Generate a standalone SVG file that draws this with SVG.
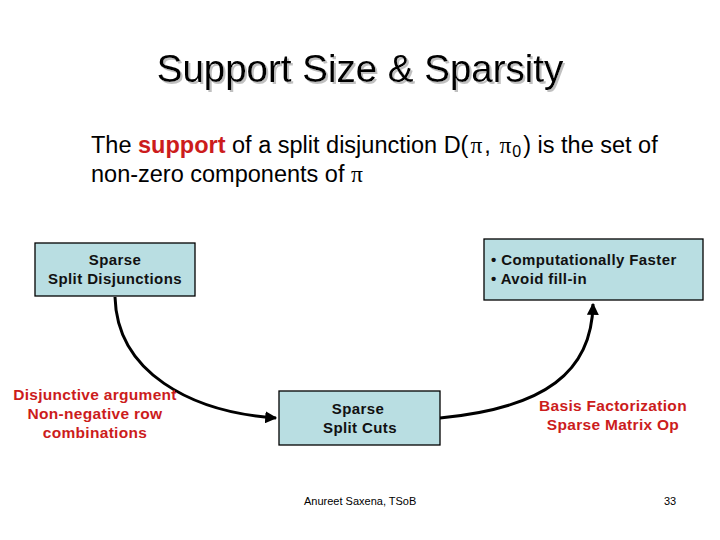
<svg xmlns="http://www.w3.org/2000/svg" width="720" height="540" viewBox="0 0 720 540">
<defs>
<marker id="ah" viewBox="0 0 10 10" refX="9" refY="5" markerWidth="4" markerHeight="4" orient="auto" markerUnits="strokeWidth">
<path d="M0,0 L10,5 L0,10 z" fill="#000"/>
</marker>
<filter id="shadow" x="-5%" y="-20%" width="110%" height="140%">
<feOffset in="SourceAlpha" dx="2" dy="2" result="o"/>
<feFlood flood-color="#c0c0c0"/>
<feComposite in2="o" operator="in" result="s"/>
<feMerge><feMergeNode in="s"/><feMergeNode in="SourceGraphic"/></feMerge>
</filter>
</defs>
<style>
.box{fill:#b9dee2;stroke:#000;stroke-width:1.3}
.t{font-family:"Liberation Sans",Arial,sans-serif;fill:#000}
.n{font-size:15px;font-weight:bold;letter-spacing:0.4px;fill:#111}
.r{font-size:15.5px;font-weight:bold;letter-spacing:0.3px;fill:#cc1c1c}
.c{fill:none;stroke:#000;stroke-width:3}
.p{font-family:"Liberation Serif",serif}
</style>
<rect width="720" height="540" fill="#fff"/>
<g id="title">
<text x="360" y="82" text-anchor="middle" class="t" font-size="38.5" filter="url(#shadow)">Support Size &amp; Sparsity</text>
</g>
<g id="body" class="t" font-size="23.5">
<text x="91" y="153">The <tspan font-weight="bold" fill="#cc1c1c">support</tspan> of a split disjunction D(<tspan class="p" dx="2">π</tspan><tspan dx="2">, </tspan><tspan class="p" dx="2">π</tspan><tspan font-size="16" dy="4" dx="1">0</tspan><tspan dy="-4" dx="2">) is the set of</tspan></text>
<text x="91" y="182">non-zero components of <tspan class="p">π</tspan></text>
</g>
<g id="connectors">
<path class="c" d="M115,297 C117,372 190,412 276,418" marker-end="url(#ah)"/>
<path class="c" d="M440,418 C545,408 592,372 593,304" marker-end="url(#ah)"/>
</g>
<g id="n1">
<rect class="box" x="35" y="243" width="160" height="53"/>
<text class="t n" x="115" y="265" text-anchor="middle">Sparse</text>
<text class="t n" x="115" y="284" text-anchor="middle">Split Disjunctions</text>
</g>
<g id="n2">
<rect class="box" x="484" y="239" width="219" height="61"/>
<text class="t n" x="491" y="265">• Computationally Faster</text>
<text class="t n" x="491" y="284">• Avoid fill-in</text>
</g>
<g id="n3">
<rect class="box" x="279" y="391" width="161" height="54"/>
<text class="t n" x="358" y="414" text-anchor="middle">Sparse</text>
<text class="t n" x="360" y="433" text-anchor="middle">Split Cuts</text>
</g>
<g id="label1" text-anchor="middle">
<text class="t r" x="95" y="400">Disjunctive argument</text>
<text class="t r" x="95" y="419">Non-negative row</text>
<text class="t r" x="95" y="438">combinations</text>
</g>
<g id="label2" text-anchor="middle">
<text class="t r" x="613" y="411">Basis Factorization</text>
<text class="t r" x="613" y="430">Sparse Matrix Op</text>
</g>
<g id="footer" class="t" font-size="11">
<text x="304" y="505">Anureet Saxena, TSoB</text>
<text x="664" y="505">33</text>
</g>
</svg>
